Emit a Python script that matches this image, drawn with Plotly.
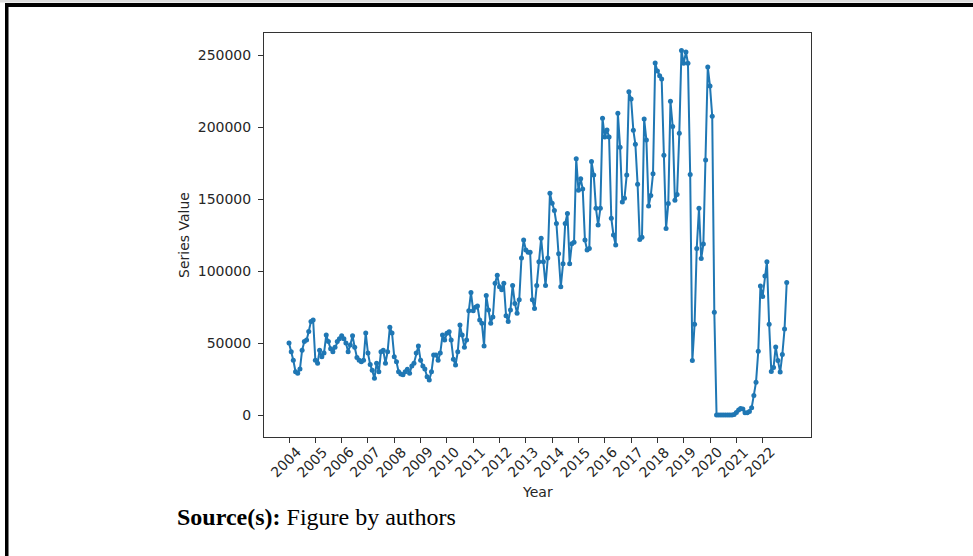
import pandas as pd
import plotly.graph_objects as go

# Monthly values, Jan..Dec for each year
y2004 = [50000, 44000, 38000, 30000, 29000, 32000, 45000, 51000, 52000, 58000, 65000, 66000]
y2005 = [38000, 36000, 45000, 40500, 43000, 55500, 51000, 46000, 44000, 47000, 51000, 53000]
y2006 = [55000, 53000, 50000, 44000, 48600, 55000, 47000, 40000, 38000, 37000, 38000, 57000]
y2007 = [43000, 35000, 31000, 25500, 36000, 30000, 44000, 45000, 36000, 44000, 61000, 57000]
y2008 = [40500, 37000, 30000, 28500, 28000, 30000, 31700, 29000, 34000, 36000, 43000, 48000]
y2009 = [38000, 34000, 32000, 26600, 24300, 30000, 41700, 41700, 38000, 43000, 55500, 52000]
y2010 = [56700, 57800, 52000, 38700, 34700, 44000, 62500, 55500, 47000, 52000, 72400, 85000]
y2011 = [72400, 74800, 75700, 66000, 63700, 48000, 83000, 73000, 63700, 68000, 91500, 97000]
y2012 = [89000, 87000, 91500, 69000, 65000, 73000, 90000, 77500, 70600, 80000, 109000, 121500]
y2013 = [114600, 113000, 113000, 80000, 74000, 90000, 106500, 122700, 106500, 90000, 109000, 154000]
y2014 = [147000, 142000, 133000, 112000, 89000, 105000, 133000, 140000, 105000, 119000, 120000, 178000]
y2015 = [156000, 164000, 157000, 121500, 114600, 115700, 176000, 166700, 143500, 132000, 143500, 206000]
y2016 = [193000, 198000, 193000, 136600, 125000, 118000, 209500, 186000, 148000, 150500, 166700, 224500]
y2017 = [219400, 197700, 188100, 160200, 121900, 123400, 205500, 190900, 145100, 152400, 167500, 244500]
y2018 = [238900, 235600, 233400, 180400, 129500, 146800, 217800, 200400, 149100, 153100, 195600, 253200]
y2019 = [244200, 252000, 244300, 167000, 37800, 63100, 115700, 143600, 108600, 118700, 177000, 241700]
y2020 = [228400, 207500, 71400, 0, 0, 0, 0, 0, 0, 0, 0, 400]
y2021 = [1700, 3400, 4600, 4200, 1500, 1600, 2400, 5000, 13500, 22800, 44300, 89500]
y2022 = [82300, 96500, 106500, 63000, 30200, 32900, 47300, 37800, 29800, 42000, 59800, 92000]

years = list(range(2004, 2023))
tick_labels = [str(y) for y in years]
y_ticks = [0, 50000, 100000, 150000, 200000, 250000]

values = (y2004 + y2005 + y2006 + y2007 + y2008 + y2009 + y2010 + y2011 + y2012 +
          y2013 + y2014 + y2015 + y2016 + y2017 + y2018 + y2019 + y2020 + y2021 + y2022)
dates = pd.date_range("2004-01-01", periods=len(values), freq="MS")

W, H = 973, 556
L, R, T, B = 264, 811, 33, 437

fig = go.Figure()
fig.add_trace(go.Scatter(
    x=dates, y=values, mode="lines+markers",
    line=dict(color="#1f77b4", width=2),
    marker=dict(color="#1f77b4", size=5),
    showlegend=False, hoverinfo="x+y"))

axis_font = dict(family="DejaVu Sans", size=14, color="#262626")

tick_annotations = [
    dict(text=lab, x=f"{y}-01-01", xref="x", yref="paper",
         y=1 - 462 / H, xshift=-3, textangle=-45, showarrow=False,
         xanchor="center", yanchor="middle", font=axis_font)
    for y, lab in zip(years, tick_labels)
]

fig.update_layout(
    width=W, height=H,
    margin=dict(l=0, r=0, t=0, b=0),
    paper_bgcolor="white", plot_bgcolor="white",
    xaxis=dict(
        domain=[L / W, R / W],
        range=["2003-01-19", "2023-11-03"],
        tickvals=[f"{y}-01-01" for y in years],
        ticktext=tick_labels,
        showticklabels=False,
        ticks="outside", ticklen=5, tickcolor="#333", tickwidth=1,
        showline=True, linecolor="#333", linewidth=1, mirror=True,
        showgrid=False, zeroline=False,
    ),
    yaxis=dict(
        domain=[(H - B) / H, (H - T) / H],
        range=[-15278, 265278],
        tickvals=y_ticks,
        ticktext=[str(v) for v in y_ticks],
        tickfont=axis_font,
        ticklabelstandoff=4,
        ticks="outside", ticklen=5, tickcolor="#333", tickwidth=1,
        showline=True, linecolor="#333", linewidth=1, mirror=True,
        showgrid=False, zeroline=False,
    ),
    shapes=[
        dict(type="rect", xref="paper", yref="paper", x0=0, x1=1,
             y0=1 - 2.5 / H, y1=1, fillcolor="#dcdcdc", line=dict(width=0), layer="above"),
        dict(type="rect", xref="paper", yref="paper", x0=5 / W, x1=1,
             y0=1 - 7 / H, y1=1 - 3 / H, fillcolor="black", line=dict(width=0), layer="above"),
        dict(type="rect", xref="paper", yref="paper", x0=5 / W, x1=8.5 / W,
             y0=0, y1=1 - 3 / H, fillcolor="black", line=dict(width=0), layer="above"),
    ],
    annotations=tick_annotations + [
        dict(text="Series Value", xref="paper", yref="paper",
             x=184 / W, y=1 - 235 / H, textangle=-90, showarrow=False,
             xanchor="center", yanchor="middle", font=axis_font),
        dict(text="Year", xref="paper", yref="paper",
             x=537 / W, y=1 - 492 / H, showarrow=False,
             xanchor="center", yanchor="middle", font=axis_font),
        dict(text="<b>Source(s):</b> Figure by authors", xref="paper", yref="paper",
             x=175 / W, y=1 - 517 / H, showarrow=False,
             xanchor="left", yanchor="middle",
             font=dict(family="Liberation Serif", size=24, color="black")),
    ],
)

fig.write_html("out.html")
